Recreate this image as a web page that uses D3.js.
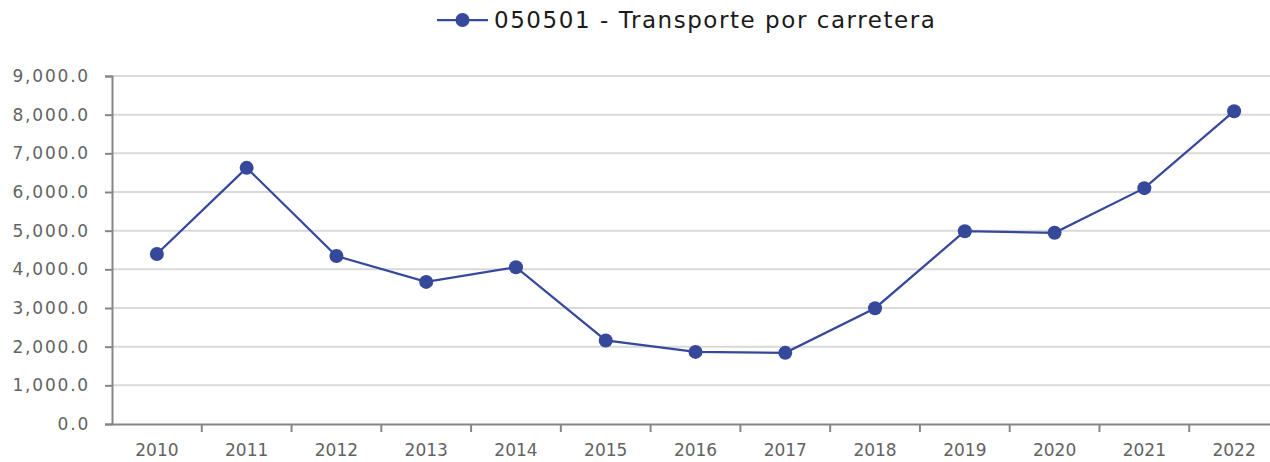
<!DOCTYPE html>
<html>
<head>
<meta charset="utf-8">
<script src="https://cdn.jsdelivr.net/npm/d3@7"></script>
<style>
  body { margin: 0; background: #fff; }
  svg { display: block; }
  svg text { font-family: "DejaVu Sans", "Noto Sans", sans-serif; }
</style>
</head>
<body>
<svg id="chart" width="1270" height="462"></svg>
<script>
const years = ["2010", "2011", "2012", "2013", "2014", "2015", "2016", "2017", "2018", "2019", "2020", "2021", "2022"];
const values = [4395, 6625, 4345, 3675, 4055, 2160, 1865, 1840, 2995, 4985, 4945, 6100, 8090];
const yTicks = [0, 1000, 2000, 3000, 4000, 5000, 6000, 7000, 8000, 9000];
const seriesName = "050501 - Transporte por carretera";

const svg = d3.select("#chart");
const margin = { top: 76, right: -9, bottom: 38, left: 112 };
const width = +svg.attr("width") - margin.left - margin.right;
const height = +svg.attr("height") - margin.top - margin.bottom;
const g = svg.append("g").attr("transform", `translate(${margin.left},${margin.top})`);

const color = "#36489a";

const x = d3.scaleBand().domain(years).range([0, width]);
const y = d3.scaleLinear().domain([0, 9000]).range([height, 0]);

// gridlines
g.append("g")
    .selectAll("line")
    .data(yTicks.slice(1))
    .enter().append("line")
    .attr("x1", 0)
    .attr("x2", width)
    .attr("y1", d => y(d))
    .attr("y2", d => y(d))
    .attr("stroke", "#d9d9d9")
    .attr("stroke-width", 2);

// y axis
const yAxis = g.append("g")
    .call(d3.axisLeft(y).tickValues(yTicks).tickSize(7).tickPadding(15)
        .tickFormat(d => d3.format(",.1f")(d)));
yAxis.attr("font-family", null);
yAxis.select(".domain").attr("stroke", "#868686").attr("stroke-width", 2);
yAxis.selectAll(".tick line").attr("stroke", "#868686").attr("stroke-width", 2);
yAxis.selectAll("text").attr("fill", "#636363").style("font-size", "17px").style("letter-spacing", "1.8px");

// x axis
const xAxis = g.append("g")
    .attr("transform", `translate(0,${height})`)
    .call(d3.axisBottom(x).tickSize(0).tickPadding(20));
xAxis.attr("font-family", null);
xAxis.select(".domain").attr("stroke", "#868686").attr("stroke-width", 2);
xAxis.selectAll("text").attr("fill", "#636363").style("font-size", "17px");
xAxis.append("g")
    .selectAll("line")
    .data(years)
    .enter().append("line")
    .attr("x1", d => x(d) + x.bandwidth())
    .attr("x2", d => x(d) + x.bandwidth())
    .attr("y1", 0)
    .attr("y2", 8)
    .attr("stroke", "#868686")
    .attr("stroke-width", 2);

const line = d3.line()
    .x((d, i) => x(years[i]) + x.bandwidth() / 2)
    .y(d => y(d));

g.append("path")
    .datum(values)
    .attr("fill", "none")
    .attr("stroke", color)
    .attr("stroke-width", 2.25)
    .attr("d", line);

g.selectAll("circle.pt")
    .data(values)
    .enter().append("circle")
    .attr("class", "pt")
    .attr("cx", (d, i) => x(years[i]) + x.bandwidth() / 2)
    .attr("cy", d => y(d))
    .attr("r", 7)
    .attr("fill", color);

// legend
const legend = svg.append("g").attr("transform", "translate(437,20)");
legend.append("line")
    .attr("x1", 0).attr("x2", 51)
    .attr("y1", 0).attr("y2", 0)
    .attr("stroke", color).attr("stroke-width", 2.25);
legend.append("circle")
    .attr("cx", 25.5).attr("cy", 0).attr("r", 7).attr("fill", color);
legend.append("text")
    .attr("x", 57).attr("y", 0).attr("dy", "0.35em")
    .attr("fill", "#1a1a1a")
    .style("font-size", "23px")
    .style("letter-spacing", "1.55px")
    .text(seriesName);
</script>
</body>
</html>
